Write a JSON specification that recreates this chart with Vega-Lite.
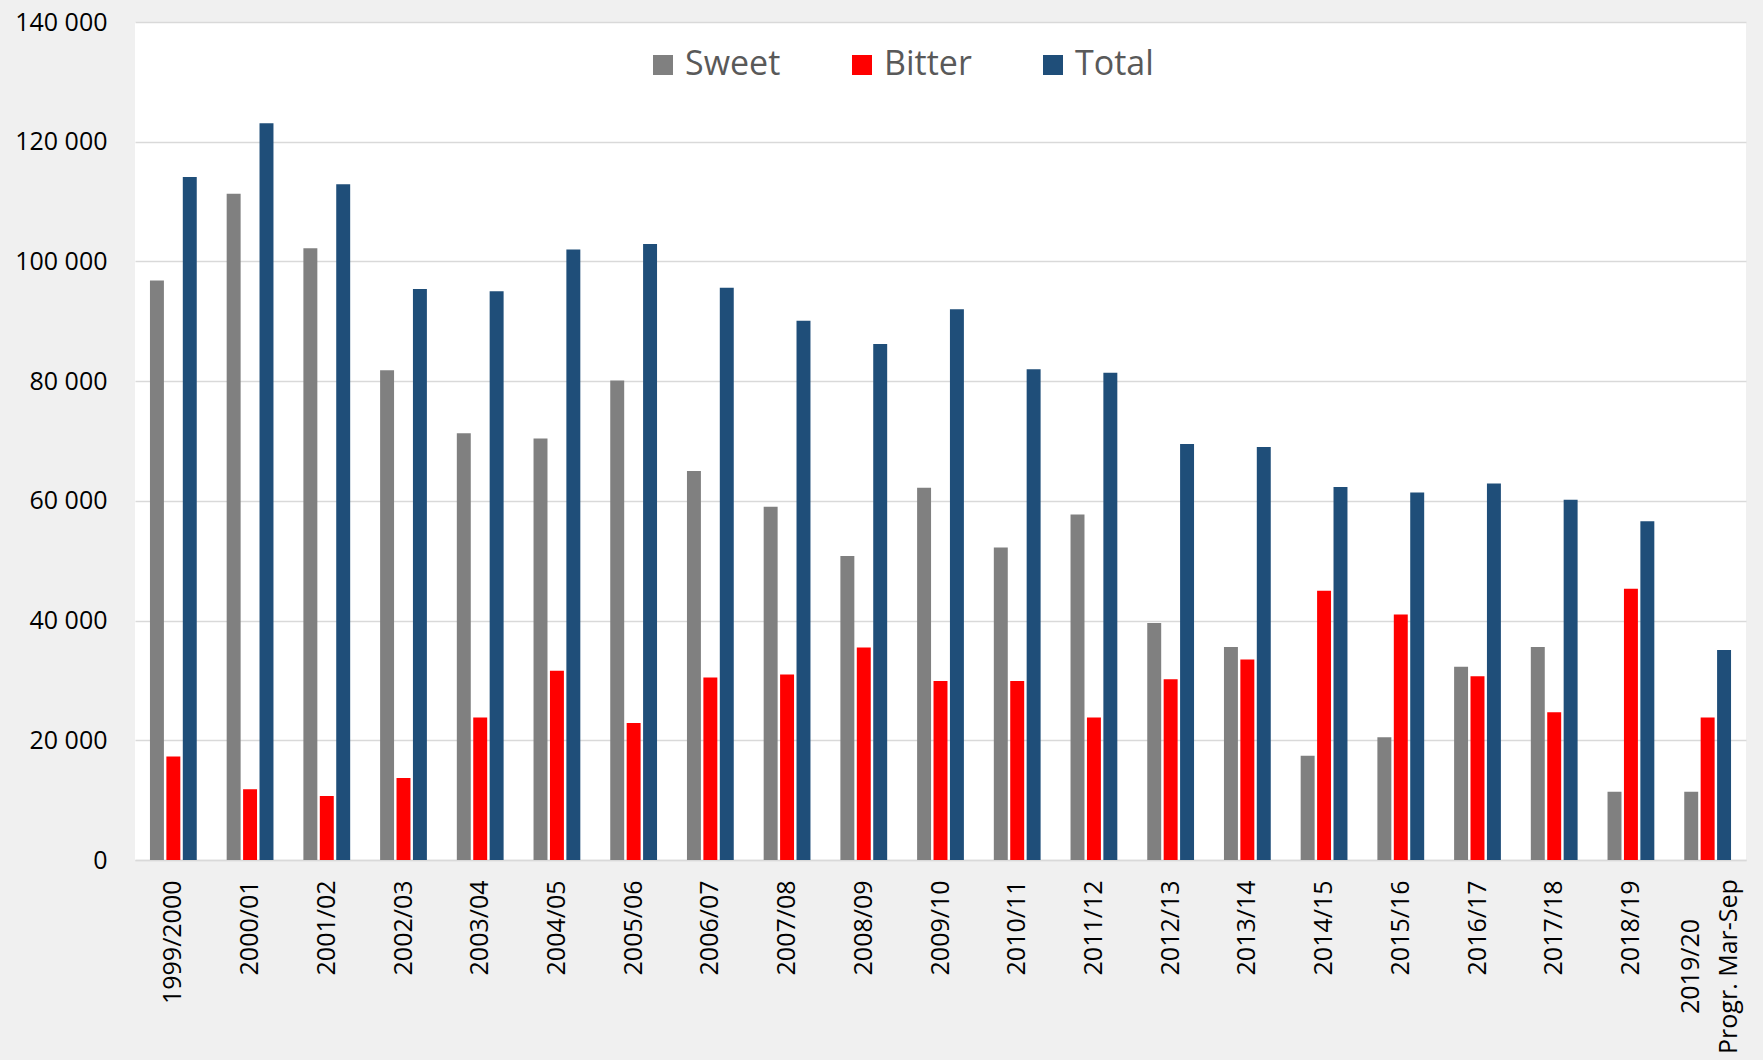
{
  "$schema": "https://vega.github.io/schema/vega-lite/v6.json",
  "width": 1611,
  "height": 838,
  "autosize": "none",
  "padding": {"left": 135, "top": 22, "right": 17, "bottom": 200},
  "background": "#f0f0f0",
  "config": {"view": {"fill": "white", "stroke": null}, "font": "Open Sans"},
  "data": {"values": [
    {"season": "1999/2000", "type": "Sweet", "value": 96800},
    {"season": "1999/2000", "type": "Bitter", "value": 17300},
    {"season": "1999/2000", "type": "Total", "value": 114100},
    {"season": "2000/01", "type": "Sweet", "value": 111300},
    {"season": "2000/01", "type": "Bitter", "value": 11800},
    {"season": "2000/01", "type": "Total", "value": 123100},
    {"season": "2001/02", "type": "Sweet", "value": 102200},
    {"season": "2001/02", "type": "Bitter", "value": 10700},
    {"season": "2001/02", "type": "Total", "value": 112900},
    {"season": "2002/03", "type": "Sweet", "value": 81800},
    {"season": "2002/03", "type": "Bitter", "value": 13700},
    {"season": "2002/03", "type": "Total", "value": 95400},
    {"season": "2003/04", "type": "Sweet", "value": 71300},
    {"season": "2003/04", "type": "Bitter", "value": 23800},
    {"season": "2003/04", "type": "Total", "value": 95000},
    {"season": "2004/05", "type": "Sweet", "value": 70400},
    {"season": "2004/05", "type": "Bitter", "value": 31600},
    {"season": "2004/05", "type": "Total", "value": 102000},
    {"season": "2005/06", "type": "Sweet", "value": 80100},
    {"season": "2005/06", "type": "Bitter", "value": 22900},
    {"season": "2005/06", "type": "Total", "value": 102900},
    {"season": "2006/07", "type": "Sweet", "value": 65000},
    {"season": "2006/07", "type": "Bitter", "value": 30500},
    {"season": "2006/07", "type": "Total", "value": 95600},
    {"season": "2007/08", "type": "Sweet", "value": 59000},
    {"season": "2007/08", "type": "Bitter", "value": 31000},
    {"season": "2007/08", "type": "Total", "value": 90100},
    {"season": "2008/09", "type": "Sweet", "value": 50800},
    {"season": "2008/09", "type": "Bitter", "value": 35500},
    {"season": "2008/09", "type": "Total", "value": 86200},
    {"season": "2009/10", "type": "Sweet", "value": 62200},
    {"season": "2009/10", "type": "Bitter", "value": 29900},
    {"season": "2009/10", "type": "Total", "value": 92000},
    {"season": "2010/11", "type": "Sweet", "value": 52200},
    {"season": "2010/11", "type": "Bitter", "value": 29900},
    {"season": "2010/11", "type": "Total", "value": 82000},
    {"season": "2011/12", "type": "Sweet", "value": 57700},
    {"season": "2011/12", "type": "Bitter", "value": 23800},
    {"season": "2011/12", "type": "Total", "value": 81400},
    {"season": "2012/13", "type": "Sweet", "value": 39600},
    {"season": "2012/13", "type": "Bitter", "value": 30200},
    {"season": "2012/13", "type": "Total", "value": 69500},
    {"season": "2013/14", "type": "Sweet", "value": 35600},
    {"season": "2013/14", "type": "Bitter", "value": 33500},
    {"season": "2013/14", "type": "Total", "value": 69000},
    {"season": "2014/15", "type": "Sweet", "value": 17400},
    {"season": "2014/15", "type": "Bitter", "value": 45000},
    {"season": "2014/15", "type": "Total", "value": 62300},
    {"season": "2015/16", "type": "Sweet", "value": 20500},
    {"season": "2015/16", "type": "Bitter", "value": 41000},
    {"season": "2015/16", "type": "Total", "value": 61400},
    {"season": "2016/17", "type": "Sweet", "value": 32300},
    {"season": "2016/17", "type": "Bitter", "value": 30700},
    {"season": "2016/17", "type": "Total", "value": 62900},
    {"season": "2017/18", "type": "Sweet", "value": 35600},
    {"season": "2017/18", "type": "Bitter", "value": 24700},
    {"season": "2017/18", "type": "Total", "value": 60200},
    {"season": "2018/19", "type": "Sweet", "value": 11400},
    {"season": "2018/19", "type": "Bitter", "value": 45300},
    {"season": "2018/19", "type": "Total", "value": 56600},
    {"season": "2019/20 Progr. Mar-Sep", "type": "Sweet", "value": 11400},
    {"season": "2019/20 Progr. Mar-Sep", "type": "Bitter", "value": 23800},
    {"season": "2019/20 Progr. Mar-Sep", "type": "Total", "value": 35100}
  ]},
  "mark": {"type": "bar"},
  "encoding": {
    "x": {
      "field": "season", "type": "nominal", "sort": null,
      "scale": {"paddingInner": 0.39, "paddingOuter": 0.195},
      "axis": {
        "title": null, "labelAngle": -90, "labelFontSize": 25, "labelColor": "#000000",
        "labelPadding": {"condition": {"test": "datum.value == '2019/20 Progr. Mar-Sep'", "value": 106}, "value": 20},
        "labelAlign": {"condition": {"test": "datum.value == '2019/20 Progr. Mar-Sep'", "value": "center"}, "value": "right"},
        "labelOffset": {"condition": {"test": "datum.value == '2019/20 Progr. Mar-Sep'", "value": -17}, "value": 0},
        "ticks": false, "domainColor": "#d9d9d9", "domainWidth": 1.5,
        "labelLineHeight": 38,
        "labelExpr": "datum.value == '2019/20 Progr. Mar-Sep' ? ['2019/20', 'Progr. Mar-Sep'] : datum.value"
      }
    },
    "xOffset": {
      "field": "type", "type": "nominal", "sort": ["Sweet", "Bitter", "Total"],
      "scale": {"paddingInner": 0.15, "paddingOuter": 0}
    },
    "y": {
      "field": "value", "type": "quantitative",
      "scale": {"domain": [0, 140000]},
      "axis": {
        "title": null, "values": [0, 20000, 40000, 60000, 80000, 100000, 120000, 140000],
        "labelFontSize": 25, "labelColor": "#000000", "labelPadding": 28, "ticks": false,
        "domain": false, "gridColor": "#d9d9d9", "gridWidth": 1.5,
        "labelExpr": "replace(format(datum.value, ',d'), ',', ' ')"
      }
    },
    "color": {
      "field": "type", "type": "nominal",
      "scale": {"domain": ["Sweet", "Bitter", "Total"], "range": ["#808080", "#ff0000", "#1f4e79"]},
      "legend": {
        "title": null, "orient": "none", "direction": "horizontal",
        "legendX": 511, "legendY": 26,
        "symbolType": "square", "symbolSize": 400, "symbolStrokeWidth": 0,
        "labelFontSize": 34, "labelColor": "#595959", "labelOffset": 5,
        "columnPadding": 64
      }
    }
  }
}
